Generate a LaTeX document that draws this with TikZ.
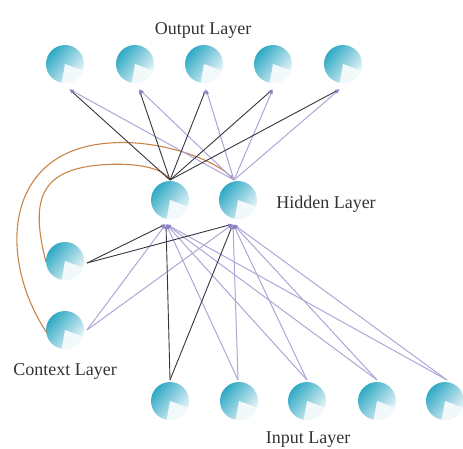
\documentclass[tikz,border=0pt]{standalone}
\usepackage{fontspec}
\setmainfont{Liberation Serif}
\usepackage{tikz}
\usetikzlibrary{arrows.meta,calc}
\definecolor{nteal}{HTML}{2FA9C4}
\definecolor{npale}{HTML}{EEF7FA}
\definecolor{nwedge}{HTML}{F2F9FB}
\definecolor{darkw}{HTML}{35353F}
\definecolor{lightw}{HTML}{ADA6D6}
\definecolor{tipc}{HTML}{8A82C0}
\definecolor{ctxc}{HTML}{C98447}
\tikzset{
  neuron/.style={circle, minimum size=38pt, inner sep=0pt,
    top color=nteal, bottom color=npale, shading angle=50,
    path picture={\fill[nwedge] (path picture bounding box.center) -- ++(-100:22pt)
      arc[start angle=-100, end angle=-20, radius=22pt] -- cycle;}},
  strong/.style={draw=darkw, line width=0.9pt, -{Latex[length=5pt,width=3.5pt,color=tipc]}},
  weak/.style={draw=lightw, line width=1pt, -{Latex[length=5pt,width=3.5pt,color=tipc]}},
  recur/.style={draw=ctxc, line width=1.1pt, -{Latex[length=5pt,width=3.5pt]}},
  layer/.style={font=\fontsize{18}{20}\selectfont, text=black!80, anchor=base}
}
\begin{document}
\begin{tikzpicture}[x=1pt,y=-1pt]
\useasboundingbox (0,0) rectangle (463,448);
% neurons
\node[neuron] (o1) at (65,64) {};
\node[neuron] (o2) at (135,64) {};
\node[neuron] (o3) at (204,64) {};
\node[neuron] (o4) at (273,64) {};
\node[neuron] (o5) at (343,64) {};
\node[neuron] (h1) at (170,200) {};
\node[neuron] (h2) at (238,200) {};
\node[neuron] (c1) at (65,261) {};
\node[neuron] (c2) at (65,330) {};
\node[neuron] (i1) at (170,401) {};
\node[neuron] (i2) at (239,401) {};
\node[neuron] (i3) at (307,401) {};
\node[neuron] (i4) at (377,401) {};
\node[neuron] (i5) at (445,401) {};
% ports
\coordinate (o1p) at ($(o1.center)+(4,25)$);
\coordinate (o2p) at ($(o2.center)+(4,25)$);
\coordinate (o3p) at ($(o3.center)+(2,25)$);
\coordinate (o4p) at ($(o4.center)+(0,25)$);
\coordinate (o5p) at ($(o5.center)+(-3,25)$);
\coordinate (h1t) at ($(h1.center)+(0,-20)$);
\coordinate (h2t) at ($(h2.center)+(-4,-20)$);
\coordinate (h1b) at ($(h1.center)+(-4,24)$);
\coordinate (h2b) at ($(h2.center)+(-5,24)$);
\coordinate (c1p) at ($(c1.center)+(22,2)$);
\coordinate (c2p) at ($(c2.center)+(22,0)$);
\coordinate (c1w) at ($(c1.center)+(-19,1)$);
\coordinate (c2w) at ($(c2.center)+(-18,3)$);
\coordinate (i1p) at ($(i1.center)+(0,-21)$);
\coordinate (i2p) at ($(i2.center)+(-1,-21)$);
\coordinate (i3p) at ($(i3.center)+(0,-21)$);
\coordinate (i4p) at ($(i4.center)+(0,-21)$);
\coordinate (i5p) at ($(i5.center)+(2,-21)$);
% recurrent copies
\draw[recur] (c1w) .. controls (30,200) and (40,170) .. (100,165) .. controls (135,162) and (160,168) .. (h1t);
\draw[recur] (c2w) .. controls (-2,260) and (2,150) .. (110,143) .. controls (160,139) and (215,160) .. (h2t);
% hidden to output
\draw[weak] (h2t) -- (o1p);
\draw[weak] (h2t) -- (o2p);
\draw[weak] (h2t) -- (o3p);
\draw[weak] (h2t) -- (o4p);
\draw[weak] (h2t) -- (o5p);
\draw[strong] (h1t) -- (o1p);
\draw[strong] (h1t) -- (o2p);
\draw[strong] (h1t) -- (o3p);
\draw[strong] (h1t) -- (o4p);
\draw[strong] (h1t) -- (o5p);
% context and input to hidden
\draw[weak] (c2p) -- (h1b);
\draw[weak] (c2p) -- (h2b);
\draw[weak] (i2p) -- (h1b);
\draw[weak] (i2p) -- (h2b);
\draw[weak] (i3p) -- (h1b);
\draw[weak] (i3p) -- (h2b);
\draw[weak] (i4p) -- (h1b);
\draw[weak] (i4p) -- (h2b);
\draw[weak] (i5p) -- (h1b);
\draw[weak] (i5p) -- (h2b);
\draw[strong] (c1p) -- (h1b);
\draw[strong] (c1p) -- (h2b);
\draw[strong] (i1p) -- (h1b);
\draw[strong] (i1p) -- (h2b);
% labels
\node[layer] (lout) at (203,34) {Output Layer};
\node[layer] (lhid) at (326,208) {Hidden Layer};
\node[layer] (lctx) at (65,375) {Context Layer};
\node[layer] (linp) at (308,443) {Input Layer};
\end{tikzpicture}
\end{document}
